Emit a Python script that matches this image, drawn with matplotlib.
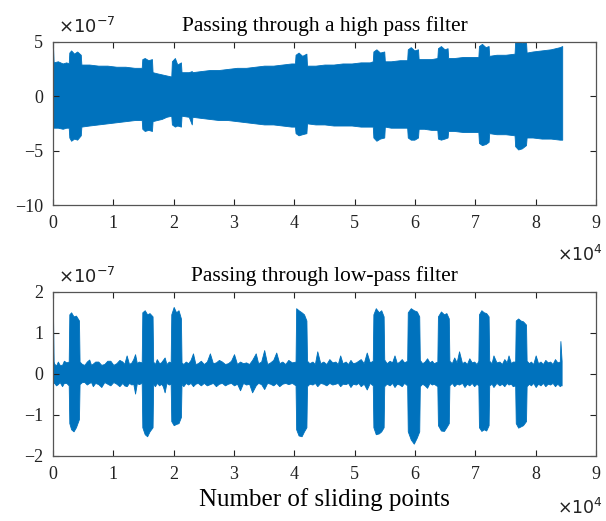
import matplotlib
matplotlib.use('Agg')
import matplotlib.pyplot as plt

# envelopes: x in 1e4 samples, y in 1e-7
hp_x = [0.00, 0.01, 0.08, 0.16, 0.22, 0.26, 0.27, 0.30, 0.35, 0.40, 0.46, 0.47,
        0.60, 0.75, 0.90, 1.05, 1.20, 1.35, 1.47, 1.48, 1.52, 1.58, 1.64, 1.65,
        1.72, 1.80, 1.88, 1.96, 1.97, 2.02, 2.06, 2.12, 2.13, 2.25, 2.30, 2.31,
        2.45, 2.60, 2.75, 2.90, 3.05, 3.20, 3.35, 3.50, 3.65, 3.80, 3.95, 4.01,
        4.02, 4.07, 4.13, 4.20, 4.21, 4.35, 4.50, 4.65, 4.80, 4.95, 5.10, 5.25,
        5.30, 5.31, 5.36, 5.42, 5.49, 5.50, 5.60, 5.75, 5.87, 5.88, 5.93, 5.99,
        6.05, 6.06, 6.15, 6.27, 6.37, 6.38, 6.43, 6.49, 6.54, 6.55, 6.65, 6.80,
        6.95, 7.05, 7.06, 7.11, 7.17, 7.22, 7.23, 7.35, 7.50, 7.65, 7.66, 7.71,
        7.77, 7.84, 7.85, 7.95, 8.10, 8.25, 8.40, 8.44]
hp_upper = [4.6, 3.1, 3.2, 3.0, 3.1, 3.0, 4.0, 4.2, 3.9, 4.1, 3.8, 2.9,
            2.9, 2.8, 2.8, 2.7, 2.7, 2.6, 2.6, 3.4, 3.5, 3.3, 3.4, 2.2,
            2.1, 2.0, 1.9, 1.8, 3.2, 3.5, 2.9, 3.1, 2.2, 2.2, 2.3, 2.2,
            2.3, 2.4, 2.4, 2.5, 2.6, 2.6, 2.7, 2.8, 2.8, 2.9, 3.0, 3.0,
            3.8, 4.0, 3.7, 3.9, 2.8, 2.8, 2.9, 2.9, 3.0, 3.0, 3.1, 3.1,
            3.2, 4.1, 4.3, 4.0, 4.1, 3.2, 3.2, 3.3, 3.3, 4.3, 4.5, 4.2,
            4.3, 3.4, 3.4, 3.4, 3.5, 4.4, 4.6, 4.3, 4.4, 3.5, 3.5, 3.6,
            3.6, 3.6, 4.6, 4.8, 4.5, 4.6, 3.7, 3.8, 3.8, 3.9, 5.0, 5.3,
            4.9, 5.0, 4.0, 4.1, 4.2, 4.3, 4.5, 4.6]
hp_lower = [-2.8, -2.9, -2.9, -3.0, -2.9, -2.9, -3.8, -4.1, -3.9, -4.0, -3.6, -2.8,
            -2.7, -2.6, -2.5, -2.4, -2.3, -2.2, -2.2, -3.0, -3.2, -3.1, -3.2, -2.3,
            -2.2, -2.1, -1.9, -1.8, -2.6, -2.8, -2.7, -2.8, -1.8, -1.9, -2.6, -1.9,
            -2.0, -2.1, -2.2, -2.2, -2.3, -2.4, -2.5, -2.6, -2.6, -2.7, -2.8, -2.8,
            -3.4, -3.6, -3.5, -3.4, -2.5, -2.6, -2.6, -2.7, -2.7, -2.7, -2.8, -2.8,
            -2.8, -3.8, -4.1, -3.9, -3.8, -2.8, -2.9, -2.9, -2.9, -3.8, -4.0, -4.0,
            -3.8, -3.0, -3.0, -3.1, -3.1, -3.9, -4.0, -3.9, -3.8, -3.2, -3.2, -3.3,
            -3.3, -3.3, -4.3, -4.5, -4.4, -4.2, -3.4, -3.5, -3.5, -3.6, -4.6, -4.9,
            -4.8, -4.5, -3.8, -3.8, -3.9, -3.9, -4.0, -4.0]

lp_x = [0.00, 0.01, 0.02, 0.05, 0.08, 0.11, 0.15, 0.18, 0.22, 0.26, 0.27, 0.30, 0.34, 0.38, 0.43, 0.44,
        0.48, 0.52, 0.56, 0.60, 0.63, 0.66, 0.70, 0.75, 0.80, 0.85, 0.90, 0.95, 1.00, 1.05, 1.10,
        1.15, 1.18, 1.22, 1.26, 1.30, 1.33, 1.36, 1.39, 1.42, 1.47,
        1.48, 1.52, 1.56, 1.60, 1.65, 1.66, 1.69, 1.72, 1.76, 1.79, 1.82, 1.85, 1.88, 1.92, 1.95,
        1.96, 2.00, 2.04, 2.08, 2.12, 2.13, 2.16, 2.20, 2.24, 2.28, 2.32, 2.36, 2.40, 2.45, 2.50,
        2.55, 2.60, 2.65, 2.70, 2.75, 2.80, 2.85, 2.90, 2.95, 3.00, 3.05, 3.10, 3.15, 3.20, 3.25,
        3.30, 3.36, 3.40, 3.45, 3.50, 3.55, 3.60, 3.65, 3.70, 3.75, 3.80, 3.85, 3.90, 3.96, 4.02,
        4.03, 4.07, 4.12, 4.16, 4.20, 4.21, 4.25, 4.30, 4.34, 4.38, 4.43, 4.48, 4.53, 4.58, 4.63,
        4.68, 4.72, 4.76, 4.80, 4.85, 4.89, 4.93, 4.97, 5.02, 5.06, 5.10, 5.15, 5.20, 5.25, 5.30,
        5.31, 5.35, 5.40, 5.44, 5.48, 5.49, 5.53, 5.58, 5.62, 5.66, 5.70, 5.74, 5.78, 5.82, 5.87,
        5.88, 5.93, 5.98, 6.03, 6.07, 6.08, 6.12, 6.16, 6.20, 6.24, 6.28, 6.31, 6.37,
        6.38, 6.43, 6.48, 6.52, 6.56, 6.57, 6.61, 6.65, 6.69, 6.73, 6.78, 6.82, 6.86, 6.90, 6.94,
        6.98, 7.02, 7.05, 7.06, 7.10, 7.14, 7.18, 7.22, 7.23, 7.27, 7.30, 7.35, 7.40, 7.44, 7.48,
        7.52, 7.55, 7.59, 7.62, 7.66, 7.67, 7.71, 7.75, 7.79, 7.84, 7.85, 7.89, 7.92, 7.96, 8.00,
        8.04, 8.08, 8.12, 8.16, 8.20, 8.24, 8.28, 8.32, 8.36, 8.40, 8.41, 8.43]
lp_upper = [1.40, 0.30, 0.25, 0.20, 0.30, 0.22, 0.22, 0.32, 0.28, 0.30, 1.45, 1.50, 1.40, 1.42, 1.30, 0.30,
            0.24, 0.22, 0.30, 0.35, 0.22, 0.25, 0.30, 0.30, 0.22, 0.24, 0.32, 0.32, 0.22, 0.26, 0.34,
            0.30, 0.24, 0.45, 0.24, 0.28, 0.36, 0.48, 0.26, 0.30, 0.28,
            1.50, 1.55, 1.45, 1.48, 1.40, 0.30, 0.24, 0.36, 0.26, 0.28, 0.34, 0.40, 0.24, 0.30, 0.28,
            1.45, 1.63, 1.50, 1.55, 1.35, 0.28, 0.24, 0.30, 0.26, 0.34, 0.50, 0.24, 0.26, 0.32, 0.24,
            0.30, 0.50, 0.26, 0.28, 0.34, 0.30, 0.24, 0.26, 0.32, 0.48, 0.24, 0.30, 0.26, 0.28, 0.24,
            0.34, 0.50, 0.26, 0.30, 0.58, 0.24, 0.28, 0.34, 0.52, 0.26, 0.30, 0.24, 0.34, 0.28, 0.30,
            1.60, 1.55, 1.50, 1.45, 1.30, 0.32, 0.26, 0.30, 0.24, 0.55, 0.26, 0.30, 0.24, 0.36, 0.28,
            0.30, 0.24, 0.45, 0.26, 0.30, 0.24, 0.34, 0.26, 0.28, 0.32, 0.36, 0.26, 0.52, 0.28, 0.32,
            1.45, 1.60, 1.50, 1.55, 1.40, 0.35, 0.26, 0.32, 0.28, 0.45, 0.26, 0.30, 0.36, 0.28, 0.32,
            1.50, 1.60, 1.55, 1.52, 1.40, 0.34, 0.26, 0.30, 0.38, 0.28, 0.32, 0.26, 0.30,
            1.40, 1.52, 1.45, 1.48, 1.35, 0.32, 0.26, 0.40, 0.28, 0.55, 0.26, 0.30, 0.24, 0.38, 0.28,
            0.30, 0.24, 0.32, 1.45, 1.55, 1.50, 1.48, 1.40, 0.32, 0.26, 0.45, 0.28, 0.30, 0.24, 0.36,
            0.28, 0.45, 0.26, 0.30, 0.30, 1.30, 1.35, 1.30, 1.28, 1.20, 0.32, 0.26, 0.30, 0.24, 0.45,
            0.26, 0.30, 0.24, 0.34, 0.28, 0.30, 0.24, 0.36, 0.28, 0.30, 0.80, 0.32]
lp_lower = [-0.20, -0.22, -0.22, -0.28, -0.25, -0.20, -0.30, -0.22, -0.22, -0.28, -1.20, -1.35, -1.40, -1.30, -1.10, -0.25,
            -0.20, -0.20, -0.26, -0.22, -0.20, -0.30, -0.22, -0.25, -0.32, -0.20, -0.24, -0.28, -0.20, -0.24, -0.30,
            -0.22, -0.28, -0.30, -0.22, -0.26, -0.24, -0.48, -0.22, -0.25, -0.22,
            -1.30, -1.47, -1.52, -1.40, -1.30, -0.25, -0.30, -0.22, -0.28, -0.24, -0.30, -0.45, -0.22, -0.26, -0.24,
            -1.15, -1.25, -1.22, -1.20, -1.05, -0.24, -0.30, -0.22, -0.26, -0.22, -0.30, -0.24, -0.22, -0.28, -0.22,
            -0.28, -0.25, -0.22, -0.30, -0.24, -0.22, -0.28, -0.24, -0.22, -0.28, -0.24, -0.40, -0.22, -0.26, -0.24,
            -0.45, -0.28, -0.22, -0.25, -0.37, -0.22, -0.24, -0.28, -0.22, -0.30, -0.24, -0.22, -0.25, -0.22, -0.28,
            -1.35, -1.50, -1.52, -1.40, -1.30, -0.30, -0.24, -0.26, -0.22, -0.30, -0.22, -0.24, -0.28, -0.22, -0.26,
            -0.24, -0.22, -0.30, -0.24, -0.25, -0.22, -0.32, -0.24, -0.26, -0.22, -0.30, -0.24, -0.38, -0.22, -0.28,
            -1.30, -1.47, -1.45, -1.40, -1.30, -0.30, -0.24, -0.28, -0.22, -0.32, -0.24, -0.26, -0.30, -0.22, -0.28,
            -1.40, -1.60, -1.70, -1.55, -1.40, -0.30, -0.24, -0.28, -0.34, -0.22, -0.26, -0.24, -0.30,
            -1.25, -1.38, -1.39, -1.30, -1.20, -0.28, -0.22, -0.30, -0.24, -0.26, -0.22, -0.32, -0.24, -0.28, -0.22,
            -0.30, -0.24, -0.28, -1.30, -1.39, -1.35, -1.38, -1.25, -0.28, -0.24, -0.32, -0.22, -0.28, -0.24, -0.30,
            -0.22, -0.26, -0.24, -0.30, -0.28, -1.20, -1.31, -1.28, -1.25, -1.15, -0.30, -0.24, -0.28, -0.22, -0.32,
            -0.24, -0.28, -0.22, -0.30, -0.24, -0.26, -0.22, -0.30, -0.24, -0.30, -0.28, -0.28]

blue = '#0072BD'
plt.rcParams['font.family'] = 'Liberation Serif'
plt.rcParams['mathtext.fontset'] = 'dejavusans'

fig = plt.figure(figsize=(6.06, 5.21), dpi=100)
ax1 = fig.add_axes([0.0875, 0.6065, 0.896, 0.3135])
ax2 = fig.add_axes([0.0875, 0.1248, 0.896, 0.3152])


def style(ax, ylim, yticks):
    ax.set_xlim(0, 9)
    ax.set_ylim(*ylim)
    ax.set_xticks(range(10))
    ax.set_yticks(yticks)
    ax.tick_params(direction='in', top=True, right=True, length=4, width=0.8,
                   labelsize=13, pad=7, colors='#222222')
    ax.set_yticklabels(['\u2212%d' % -t if t < 0 else '%d' % t for t in yticks])
    for s in ax.spines.values():
        s.set_color('#555555')
        s.set_linewidth(0.9)


ax1.fill_between(hp_x, hp_lower, hp_upper, color=blue, lw=0.6, edgecolor=blue)
style(ax1, (-10, 5), [-10, -5, 0, 5])
ax1.set_title('Passing through a high pass filter', fontsize=15.5, pad=8)

ax2.fill_between(lp_x, lp_lower, lp_upper, color=blue, lw=0.6, edgecolor=blue)
style(ax2, (-2, 2), [-2, -1, 0, 1, 2])
ax2.set_title('Passing through low-pass filter', fontsize=15.5, pad=8)
ax2.set_xlabel('Number of sliding points', fontsize=18, labelpad=4)

for ax in (ax1, ax2):
    ax.text(0.01, 1.03, r'$\times10^{-7}$', transform=ax.transAxes, fontsize=13,
            ha='left', va='bottom', color='#222222')

# x exponent labels sit at the right edge of the figure
fig.text(0.995, 0.510, r'$\times10^{4}$', fontsize=12.5, ha='right', va='center',
         color='#222222')
fig.text(0.995, 0.025, r'$\times10^{4}$', fontsize=12.5, ha='right', va='center',
         color='#222222')

fig.savefig('out.png', dpi=100)
